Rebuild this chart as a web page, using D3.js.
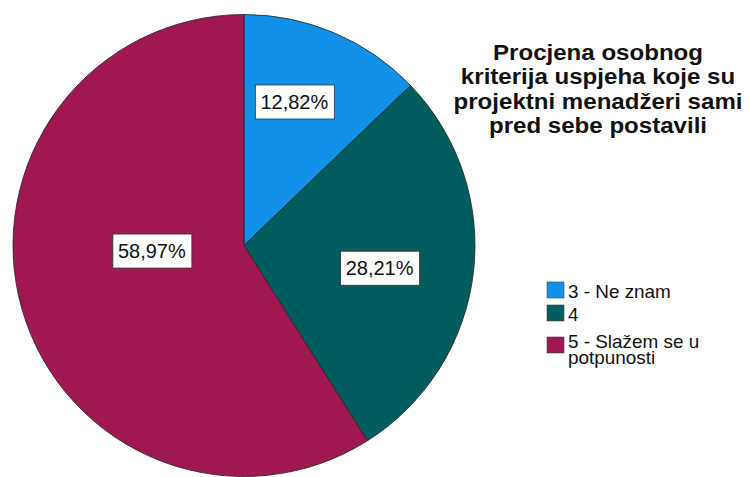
<!DOCTYPE html>
<html>
<head>
<meta charset="utf-8">
<script src="https://cdn.jsdelivr.net/npm/d3@7"></script>
<style>
  body { margin: 0; background: #fff; }
  svg { display: block; font-family: "Liberation Sans", Arial, sans-serif; }
</style>
</head>
<body>
<svg id="chart" width="749" height="477"></svg>
<script>
// data
const categories = ["3 - Ne znam", "4", "5 - Slažem se u potpunosti"];
const percents = [12.82, 28.21, 58.97];
const colors = ["#1192e8", "#005d5d", "#9f1853"];
const titleLines = ["Procjena osobnog", "kriterija uspjeha koje su", "projektni menadžeri sami", "pred sebe postavili"];

const svg = d3.select("#chart");
const cx = 244, cy = 245.5, radius = 231;

let pie = d3.pie().sort(null).value(d => d);
let arcs = pie(percents);
let arc = d3.arc().innerRadius(0).outerRadius(radius);

let g = svg.append("g").attr("transform", "translate(" + cx + "," + cy + ")");

g.selectAll("path")
    .data(arcs)
    .enter().append("path")
    .attr("d", arc)
    .attr("fill", (d, i) => colors[i])
    .attr("stroke", "#222")
    .attr("stroke-width", 0.8);

// SPSS puts labels a bit off the centroid, nudge them
let labelArc = d3.arc().innerRadius(radius * 0.6).outerRadius(radius * 0.6);
let nudge = [[-4, -16], [-2, 6], [41, -33]];

let fmt = v => v.toFixed(2).replace(".", ",") + "%";

let labels = g.selectAll("g.lbl")
    .data(arcs)
    .enter().append("g")
    .attr("class", "lbl")
    .attr("transform", (d, i) => {
        let c = labelArc.centroid(d);
        return "translate(" + (c[0] + nudge[i][0]) + "," + (c[1] + nudge[i][1]) + ")";
    });

labels.append("rect")
    .attr("x", -39).attr("y", -17)
    .attr("width", 79).attr("height", 34)
    .attr("fill", "#fff")
    .attr("stroke", "#333")
    .attr("stroke-width", 0.8);

labels.append("text")
    .attr("text-anchor", "middle")
    .attr("dy", "0.36em")
    .attr("font-size", 20)
    .attr("fill", "#111")
    .text(d => fmt(d.data));

// title (reference glyphs are a bit wider than Liberation, so stretch slightly)
svg.append("g")
    .attr("transform", "translate(598,60) scale(1.07,1)")
    .append("text")
    .attr("text-anchor", "middle")
    .attr("font-size", 22.5)
    .attr("font-weight", "bold")
    .attr("fill", "#111")
    .selectAll("tspan")
    .data(titleLines)
    .enter().append("tspan")
    .attr("x", 0)
    .attr("dy", (d, i) => i === 0 ? 0 : 24.3)
    .text(d => d);

// legend
let legendRows = [
    { y: 282, lines: ["3 - Ne znam"] },
    { y: 305, lines: ["4"] },
    { y: 337, lines: ["5 - Slažem se u", "potpunosti"] }
];

let legend = svg.append("g").attr("transform", "translate(547,0)");
let item = legend.selectAll("g")
    .data(legendRows)
    .enter().append("g")
    .attr("transform", d => "translate(0," + d.y + ")");

item.append("rect")
    .attr("width", 17).attr("height", 16)
    .attr("fill", (d, i) => colors[i])
    .attr("stroke", "#444")
    .attr("stroke-width", 0.6);

item.append("g")
    .attr("transform", "translate(21,0) scale(1.05,1)")
    .append("text")
    .attr("y", d => d.lines.length > 1 ? 11 : 16)
    .attr("font-size", 18)
    .attr("fill", "#111")
    .selectAll("tspan")
    .data(d => d.lines)
    .enter().append("tspan")
    .attr("x", 0)
    .attr("dy", (d, i) => i === 0 ? 0 : 16)
    .text(d => d);
</script>
</body>
</html>
